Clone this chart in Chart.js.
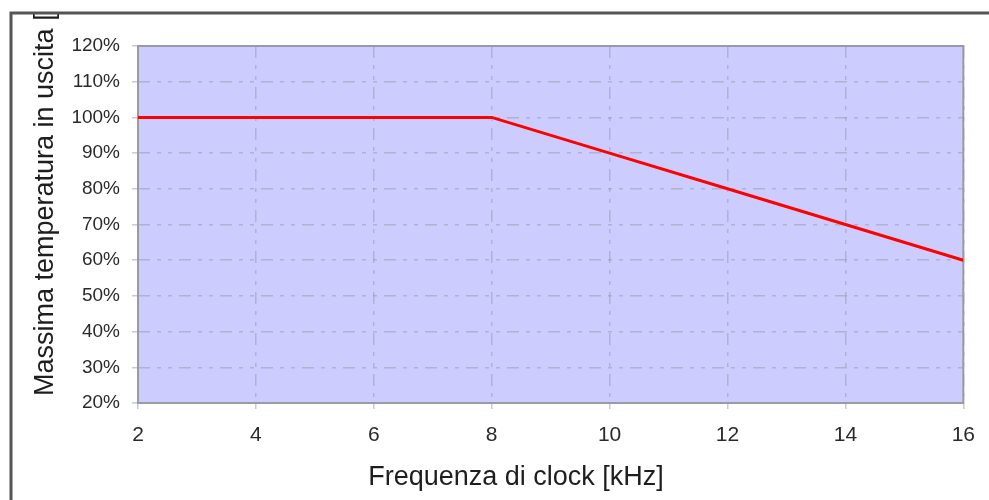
<!DOCTYPE html>
<html>
<head>
<meta charset="utf-8">
<script src="https://cdn.jsdelivr.net/npm/chart.js@4/dist/chart.umd.min.js"></script>
<style>
  html, body { margin: 0; padding: 0; background: #fff; }
  canvas { display: block; }
</style>
</head>
<body>
<canvas id="derating" width="989" height="500"></canvas>
<script>
  // Derating curve: max output temperature vs clock frequency
  const freqKHz = [2, 4, 6, 8, 10, 12, 14, 16];
  const maxTempPct = [100, 100, 100, 100, 90, 80, 70, 60];

  const xTitle = 'Frequenza di clock [kHz]';
  const yTitle = 'Massima temperatura in uscita [°C]';

  const FONT = '"Liberation Sans", Arial, sans-serif';
  const gridDash = [12, 7, 4, 7, 4, 7];
  const gridColor = 'rgba(150,150,165,0.5)';

  // ---------- plot background, border, titles and outer frame ----------
  const decor = {
    id: 'decor',
    beforeDraw(chart) {
      const { ctx, chartArea: a } = chart;
      ctx.save();
      ctx.fillStyle = '#ccccff';
      ctx.fillRect(a.left, a.top, a.right - a.left, a.bottom - a.top);
      ctx.restore();
    },
    beforeDatasetsDraw(chart) {
      const { ctx, chartArea: a } = chart;
      ctx.save();
      ctx.strokeStyle = '#9a9aa6';
      ctx.lineWidth = 2;
      ctx.strokeRect(a.left, a.top, a.right - a.left, a.bottom - a.top);
      ctx.restore();
    },
    afterDraw(chart) {
      const { ctx, width } = chart;

      // x title sits a bit left of the plot centre
      ctx.save();
      ctx.font = '27px ' + FONT;
      ctx.fillStyle = '#1e1e1e';
      ctx.textAlign = 'center';
      ctx.textBaseline = 'middle';
      ctx.fillText(xTitle, 516, 478);
      ctx.restore();

      // y title runs upward and gets cut by the frame at the top
      ctx.save();
      ctx.translate(53, 396);
      ctx.rotate(-Math.PI / 2);
      ctx.font = '27px ' + FONT;
      ctx.fillStyle = '#1e1e1e';
      ctx.textAlign = 'left';
      ctx.textBaseline = 'alphabetic';
      ctx.fillText(yTitle, 0, 0);
      ctx.restore();

      ctx.save();
      ctx.fillStyle = '#fff';
      ctx.fillRect(0, 0, width, 12);
      ctx.strokeStyle = '#555';
      ctx.lineWidth = 3;
      ctx.beginPath();
      ctx.moveTo(11, chart.height);
      ctx.lineTo(11, 13);
      ctx.lineTo(width, 13);
      ctx.stroke();
      ctx.restore();
    }
  };

  new Chart(document.getElementById('derating'), {
    type: 'line',
    data: {
      labels: freqKHz,
      datasets: [{
        data: freqKHz.map((f, i) => ({ x: f, y: maxTempPct[i] })),
        borderColor: '#ff0000',
        borderWidth: 3,
        pointRadius: 0,
        tension: 0,
        fill: false
      }]
    },
    options: {
      responsive: false,
      devicePixelRatio: 1,
      animation: false,
      layout: { padding: { top: 46, right: 25, left: 0, bottom: 0 } },
      plugins: {
        legend: { display: false },
        tooltip: { enabled: false }
      },
      scales: {
        x: {
          type: 'linear',
          min: 2,
          max: 16,
          afterFit(scale) { scale.height = 97; },
          ticks: {
            stepSize: 2,
            padding: 14,
            color: '#2a2a2a',
            font: { family: FONT, size: 21 }
          },
          grid: {
            color: gridColor,
            lineWidth: 1.5,
            tickLength: 6
          },
          border: { display: false, dash: gridDash },
          title: { display: false }
        },
        y: {
          min: 20,
          max: 120,
          afterFit(scale) { scale.width = 138; },
          ticks: {
            stepSize: 10,
            padding: 12,
            color: '#2a2a2a',
            font: { family: FONT, size: 19 },
            callback: v => v + '%'
          },
          grid: {
            color: gridColor,
            lineWidth: 1.5,
            tickLength: 6
          },
          border: { display: false, dash: gridDash }
        }
      }
    },
    plugins: [decor]
  });
</script>
</body>
</html>
